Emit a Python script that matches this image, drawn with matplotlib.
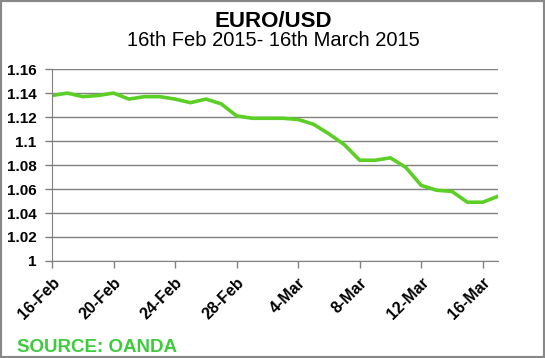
import numpy as np
import pandas as pd
import matplotlib
matplotlib.use("Agg")
from matplotlib import pyplot as plt
from matplotlib.patches import Rectangle

plt.rcParams['font.family'] = ['Liberation Sans', 'DejaVu Sans']

dates = pd.date_range("2015-02-16", "2015-03-17", freq="D")
rate = [1.138, 1.140, 1.137, 1.138, 1.140, 1.135, 1.137, 1.137, 1.135, 1.132,
        1.135, 1.131, 1.121, 1.119, 1.119, 1.119, 1.118, 1.114, 1.106, 1.097,
        1.084, 1.084, 1.086, 1.078, 1.063, 1.059, 1.058, 1.049, 1.049, 1.054]
tick_dates = pd.date_range("2015-02-16", "2015-03-16", freq="4D")
tick_labels = [f"{d.day}-{d.strftime('%b')}" for d in tick_dates]
y_ticks = [1, 1.02, 1.04, 1.06, 1.08, 1.1, 1.12, 1.14, 1.16]
y_labels = ["1", "1.02", "1.04", "1.06", "1.08", "1.1", "1.12", "1.14", "1.16"]

fig = plt.figure(figsize=(5.45, 3.58), dpi=100)
ax = fig.add_axes([0.0954, 0.271, 0.8186, 0.536])

ax.plot(dates, rate, color='#5ccf26', lw=2.6)

ax.set_xlim(dates[0], dates[-1])
ax.set_ylim(1, 1.16)
ax.set_yticks(y_ticks)
ax.set_yticklabels(y_labels, fontsize=11, fontweight='bold')
ax.set_xticks(tick_dates)
ax.set_xticklabels(tick_labels, fontsize=11.5, fontweight='bold',
                   rotation=45, ha='right', rotation_mode='anchor')
ax.grid(axis='y', color='#808080', lw=1)
for s in ['top', 'right']:
    ax.spines[s].set_visible(False)
for s in ['left', 'bottom']:
    ax.spines[s].set_color('#808080')
ax.tick_params(axis='both', color='#808080', length=5, width=1)
ax.tick_params(axis='y', pad=6)
ax.tick_params(axis='x', pad=5)
ax.set_axisbelow(True)

fig.text(0.501, 0.94, "EURO/USD", ha='center', va='center', fontsize=16, fontweight='bold')
fig.text(0.501, 0.888, "16th Feb 2015- 16th March 2015", ha='center', va='center', fontsize=14.5)
fig.text(0.031, 0.028, "SOURCE: OANDA", ha='left', va='center', fontsize=13.5,
         fontweight='bold', color='#3ccc3c')

fig.patches.append(Rectangle((0, 0), 1, 1, transform=fig.transFigure, fill=False,
                             edgecolor='#888888', lw=3))

plt.savefig("out.png", dpi=100)
